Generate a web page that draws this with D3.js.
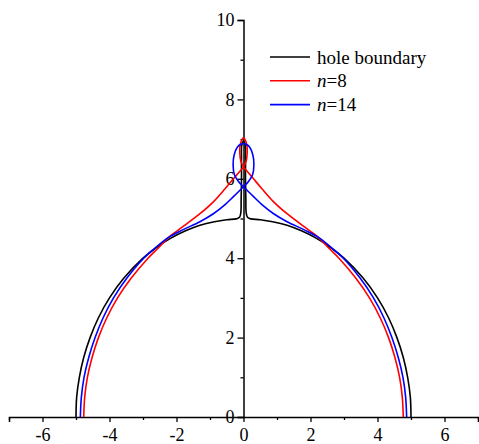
<!DOCTYPE html>
<html>
<head>
<meta charset="utf-8">
<script src="https://cdn.jsdelivr.net/npm/d3@7"></script>
<style>
  body { margin: 0; background: #fff; }
</style>
</head>
<body>
<div id="chart"></div>
<script>
// right half of each curve, bottom to top (mirrored for the left half)
var holeBoundary = [
  [5, 0], [4.98, 0.5], [4.9, 1], [4.77, 1.5], [4.58, 2], [4.33, 2.5], [4, 3],
  [3.57, 3.5], [3, 4], [2.6, 4.27], [2.18, 4.5], [1.73, 4.69], [1.3, 4.83],
  [0.87, 4.92], [0.5, 4.97], [0.22, 4.99], [0.12, 5.03], [0.08, 5.15],
  [0.07, 5.5], [0.06, 6.0], [0.06, 6.5], [0.05, 6.85], [0, 6.95]
];
var n8 = [
  [4.77, 0], [4.74, 0.5], [4.66, 1], [4.52, 1.5], [4.33, 2], [4.08, 2.5],
  [3.76, 3], [3.35, 3.5], [2.85, 4], [2.55, 4.25], [2.2, 4.55], [1.8, 4.8],
  [1.3, 5.12], [0.9, 5.42], [0.55, 5.75], [0.3, 6.0], [0.12, 6.18], [0, 6.3],
  [-0.08, 6.45], [-0.11, 6.65], [-0.1, 6.85], [-0.05, 6.98], [0, 7.03]
];
var n14 = [
  [4.87, 0], [4.84, 0.5], [4.76, 1], [4.62, 1.5], [4.43, 2], [4.19, 2.5],
  [3.88, 3], [3.48, 3.5], [2.98, 4], [2.65, 4.25], [2.25, 4.52], [1.8, 4.72],
  [1.3, 4.92], [0.9, 5.12], [0.55, 5.35], [0.3, 5.55], [0.12, 5.7], [0, 5.8],
  [-0.15, 5.93], [-0.27, 6.1], [-0.31, 6.35], [-0.28, 6.6], [-0.18, 6.8],
  [-0.08, 6.87], [0, 6.89]
];
var seriesNames = ["hole boundary", "n=8", "n=14"];
var seriesColors = ["#000000", "#ff0000", "#0000ff"];

var xMajor = [-6, -4, -2, 0, 2, 4, 6],
  xMinor = [-7, -5, -3, -1, 1, 3, 5, 7],
  yMajor = [0, 2, 4, 6, 8, 10],
  yMinor = [1, 3, 5, 7, 9];

var width = 479, height = 444;

var svg = d3.select("#chart").append("svg")
  .attr("width", width)
  .attr("height", height)
  .attr("font-family", "Liberation Serif");

var x = d3.scaleLinear().domain([-7, 7]).range([9, 478]),
  y = d3.scaleLinear().domain([0, 10]).range([417, 20]);

// whole closed curve: right half up, then mirrored half back down
function fullCurve(half) {
  var left = half.slice().reverse().map(function(p) { return [-p[0], p[1]]; });
  return half.concat(left.slice(1));
}

var line = d3.line()
  .x(function(d) { return x(d[0]); })
  .y(function(d) { return y(d[1]); })
  .curve(d3.curveCatmullRom.alpha(0.5));

var plain = function(d) { return String(d); };

// x axis through y = 0
var gx = svg.append("g").attr("transform", "translate(0," + y(0) + ")");
gx.call(d3.axisBottom(x).tickValues(xMajor).tickSize(5).tickPadding(6).tickFormat(plain));
gx.append("g").call(d3.axisBottom(x).tickValues(xMinor).tickSize(3).tickFormat(""))
  .select(".domain").remove();

// y axis through x = 0
var gy = svg.append("g").attr("transform", "translate(" + x(0) + ",0)");
gy.call(d3.axisLeft(y).tickValues(yMajor).tickSize(6).tickPadding(3).tickFormat(plain));
gy.append("g").call(d3.axisLeft(y).tickValues(yMinor).tickSize(3).tickFormat(""))
  .select(".domain").remove();

svg.selectAll(".domain").attr("stroke-width", 1.5);
svg.selectAll(".tick line").attr("stroke-width", 1.3);
svg.selectAll(".tick text")
  .attr("font-family", "Liberation Serif")
  .attr("font-size", 18)
  .attr("fill", "#000");

var curves = [holeBoundary, n8, n14];
svg.append("g").selectAll("path")
  .data(curves)
  .enter().append("path")
  .attr("d", function(d) { return line(fullCurve(d)); })
  .attr("fill", "none")
  .attr("stroke", function(d, i) { return seriesColors[i]; })
  .attr("stroke-width", 1.6);

// legend
var legend = svg.append("g").attr("transform", "translate(270,57)");
var rows = legend.selectAll("g")
  .data(seriesNames)
  .enter().append("g")
  .attr("transform", function(d, i) { return "translate(0," + (i * 23.8) + ")"; });
rows.append("line")
  .attr("x1", 0).attr("x2", 40)
  .attr("stroke", function(d, i) { return seriesColors[i]; })
  .attr("stroke-width", 1.6);
rows.append("text")
  .attr("x", 47)
  .attr("dy", "0.35em")
  .attr("font-family", "Liberation Serif")
  .attr("font-size", 19)
  .each(function(d) {
    var t = d3.select(this);
    if (d.indexOf("n=") === 0) {
      t.append("tspan").attr("font-style", "italic").text("n");
      t.append("tspan").text(d.slice(1));
    } else {
      t.text(d);
    }
  });
</script>
</body>
</html>
